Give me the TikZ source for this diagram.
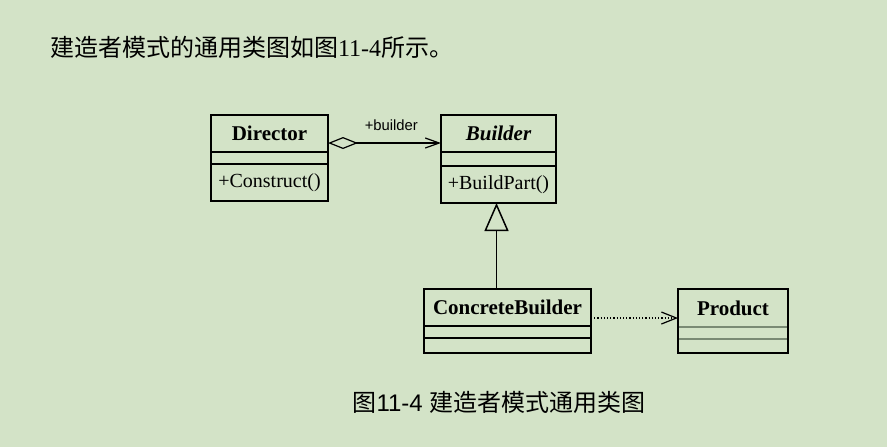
\documentclass[tikz,border=0pt]{standalone}
\usepackage{fontspec}
\setmainfont{Liberation Serif}
\newfontfamily\cjk{Noto Sans CJK SC}
\newfontfamily\arialfont{Liberation Sans}
\usetikzlibrary{positioning,arrows.meta}
\definecolor{pagegreen}{HTML}{D3E3C7}
\definecolor{dividergray}{HTML}{7A8A74}

\tikzset{
	classname/.style={draw, line width=0.75pt, outer sep=0pt, inner sep=0pt, minimum height=18.5pt, font=\fontsize{10.5}{12}\selectfont\bfseries},
	classpart/.style={draw, line width=0.75pt, outer sep=0pt, inner sep=0pt, font=\fontsize{10}{12}\selectfont},
	hiddenpart/.style={classpart, draw=none}
}

\begin{document}
\begin{tikzpicture}[x=0.5pt,y=-0.5pt]
	\fill [pagegreen] (0,0) rectangle (887,447);
	\useasboundingbox (0,0) rectangle (887,447);
	%Testo
	\node [anchor=west, font=\fontsize{12}{14}\selectfont] (intro) at (43,47) {\cjk 建造者模式的通用类图如图\rmfamily 11-4\cjk 所示。};
	%Director
	\node [classname, minimum width=58.5pt] (dir) at (269.5,133.5) {Director};
	\node [classpart, minimum width=58.5pt, minimum height=6pt, below=0pt of dir] (dirattr) {};
	\node [classpart, minimum width=58.5pt, minimum height=18.5pt, below=0pt of dirattr] (dirop) {+Construct()};
	%Builder
	\node [classname, minimum width=57.5pt] (build) at (498.5,133.5) {\itshape Builder};
	\node [classpart, minimum width=57.5pt, minimum height=7pt, below=0pt of build] (buildattr) {};
	\node [classpart, minimum width=57.5pt, minimum height=18.5pt, below=0pt of buildattr] (buildop) {+BuildPart()};
	%ConcreteBuilder
	\node [classname, minimum width=83.5pt] (cb) at (507.5,307.5) {ConcreteBuilder};
	\node [classpart, minimum width=83.5pt, minimum height=6pt, below=0pt of cb] (cbattr) {};
	\node [classpart, minimum width=83.5pt, minimum height=7.5pt, below=0pt of cbattr] (cbop) {};
	%Product
	\node [classname, draw=none, minimum width=55pt, minimum height=19pt] (prod) at (733,308) {Product};
	\node [hiddenpart, minimum width=55pt, minimum height=6pt, below=0pt of prod] (prodattr) {};
	\node [hiddenpart, minimum width=55pt, minimum height=7pt, below=0pt of prodattr] (prodop) {};
	\draw [dividergray, line width=0.75pt] (prodattr.north west) -- (prodattr.north east);
	\draw [dividergray, line width=0.75pt] (prodop.north west) -- (prodop.north east);
	\draw [line width=0.75pt] (prod.north west) rectangle (prodop.south east);
	%Aggregazione
	\draw [line width=0.6pt, {Diamond[open,length=15pt,width=6pt]}-{Straight Barb[length=7pt,width=5pt]}] ([yshift=-4.75pt]dir.east) -- ([yshift=-4.75pt]build.west) node [pos=0.56, above=2.5pt, font=\arialfont\fontsize{7.4}{9}\selectfont] (role) {+builder};
	%Generalizzazione
	\draw [line width=0.75pt, -{Triangle[open,length=14pt,width=12pt]}] ([xshift=-1pt]cb.north -| buildop.south) -- ([xshift=-1pt]buildop.south);
	%Dipendenza
	\draw [densely dotted, line width=0.6pt, -{Straight Barb[length=7.5pt,width=6pt]}] ([yshift=-5.25pt]cb.east) -- ([yshift=-5.25pt]cb.east -| prod.west);
	%Didascalia
	\node [font=\fontsize{12}{14}\selectfont] (caption) at (499,402) {\cjk 图\arialfont 11-4 \cjk 建造者模式通用类图};
\end{tikzpicture}
\end{document}
